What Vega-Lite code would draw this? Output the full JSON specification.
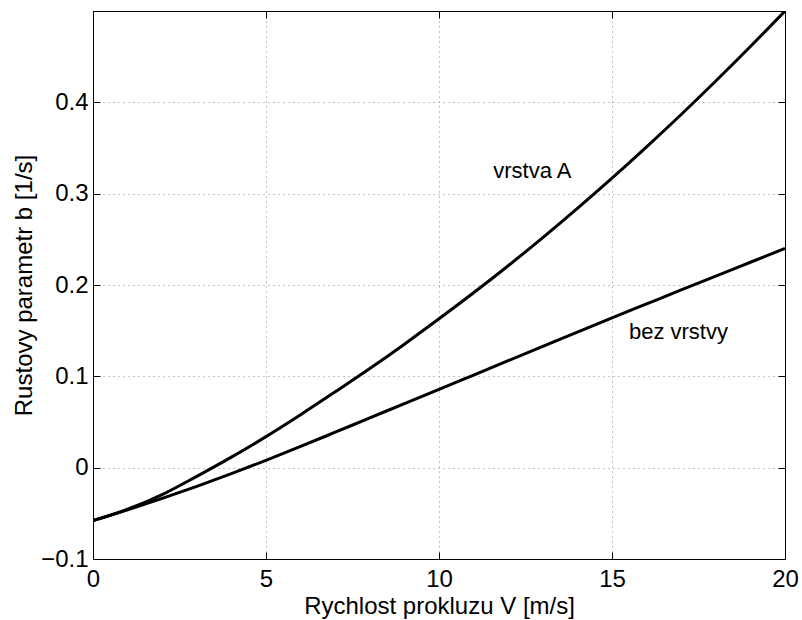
{
  "$schema": "https://vega.github.io/schema/vega-lite/v6.json",
  "width": 692,
  "height": 548,
  "autosize": "none",
  "padding": {"left": 93, "top": 11, "right": 17, "bottom": 61},
  "background": "white",
  "config": {
    "view": {"stroke": "#000", "strokeWidth": 1},
    "font": "Liberation Sans",
    "axis": {
      "domainColor": "#000",
      "tickColor": "#000",
      "labelColor": "#000",
      "titleColor": "#000",
      "labelFont": "Liberation Sans",
      "titleFont": "Liberation Sans",
      "labelFontSize": 24,
      "titleFontSize": 24,
      "titleFontWeight": "normal",
      "gridColor": "#888",
      "gridDash": [1, 4],
      "gridWidth": 1
    }
  },
  "datasets": {
    "curves": [
      {"V": 0, "b": -0.058, "s": "vrstva A"},
      {"V": 1, "b": -0.0455, "s": "vrstva A"},
      {"V": 2, "b": -0.0295, "s": "vrstva A"},
      {"V": 3, "b": -0.0095, "s": "vrstva A"},
      {"V": 4, "b": 0.0115, "s": "vrstva A"},
      {"V": 5, "b": 0.034, "s": "vrstva A"},
      {"V": 6, "b": 0.058, "s": "vrstva A"},
      {"V": 7, "b": 0.083, "s": "vrstva A"},
      {"V": 8, "b": 0.1085, "s": "vrstva A"},
      {"V": 9, "b": 0.1352, "s": "vrstva A"},
      {"V": 10, "b": 0.163, "s": "vrstva A"},
      {"V": 11, "b": 0.1915, "s": "vrstva A"},
      {"V": 12, "b": 0.2211, "s": "vrstva A"},
      {"V": 13, "b": 0.2519, "s": "vrstva A"},
      {"V": 14, "b": 0.2839, "s": "vrstva A"},
      {"V": 15, "b": 0.317, "s": "vrstva A"},
      {"V": 16, "b": 0.3513, "s": "vrstva A"},
      {"V": 17, "b": 0.3867, "s": "vrstva A"},
      {"V": 18, "b": 0.4233, "s": "vrstva A"},
      {"V": 19, "b": 0.4611, "s": "vrstva A"},
      {"V": 20, "b": 0.5, "s": "vrstva A"},
      {"V": 0, "b": -0.058, "s": "bez vrstvy"},
      {"V": 1, "b": -0.0462, "s": "bez vrstvy"},
      {"V": 2, "b": -0.0337, "s": "bez vrstvy"},
      {"V": 3, "b": -0.0205, "s": "bez vrstvy"},
      {"V": 4, "b": -0.0066, "s": "bez vrstvy"},
      {"V": 5, "b": 0.008, "s": "bez vrstvy"},
      {"V": 6, "b": 0.0232, "s": "bez vrstvy"},
      {"V": 7, "b": 0.0388, "s": "bez vrstvy"},
      {"V": 8, "b": 0.0545, "s": "bez vrstvy"},
      {"V": 9, "b": 0.0701, "s": "bez vrstvy"},
      {"V": 10, "b": 0.0858, "s": "bez vrstvy"},
      {"V": 11, "b": 0.1014, "s": "bez vrstvy"},
      {"V": 12, "b": 0.1171, "s": "bez vrstvy"},
      {"V": 13, "b": 0.1327, "s": "bez vrstvy"},
      {"V": 14, "b": 0.1484, "s": "bez vrstvy"},
      {"V": 15, "b": 0.164, "s": "bez vrstvy"},
      {"V": 16, "b": 0.1793, "s": "bez vrstvy"},
      {"V": 17, "b": 0.1946, "s": "bez vrstvy"},
      {"V": 18, "b": 0.2098, "s": "bez vrstvy"},
      {"V": 19, "b": 0.2249, "s": "bez vrstvy"},
      {"V": 20, "b": 0.24, "s": "bez vrstvy"}
    ],
    "labels": [
      {"V": 12.7, "b": 0.317, "label": "vrstva A"},
      {"V": 16.92, "b": 0.141, "label": "bez vrstvy"}
    ]
  },
  "layer": [
    {
      "layer": [
        {
          "data": {"name": "curves"},
          "mark": {"type": "line", "color": "#000", "strokeWidth": 3, "clip": true, "interpolate": "monotone"},
          "encoding": {
            "x": {
              "field": "V", "type": "quantitative",
              "scale": {"domain": [0, 20], "nice": false, "zero": false},
              "axis": {
                "orient": "bottom",
                "title": "Rychlost prokluzu V [m/s]",
                "values": [0, 5, 10, 15, 20],
                "grid": true,
                "tickSize": -7,
                "labelPadding": 15,
                "labelFlush": false,
                "titlePadding": 3
              }
            },
            "y": {
              "field": "b", "type": "quantitative",
              "scale": {"domain": [-0.1, 0.5], "nice": false, "zero": false},
              "axis": {
                "orient": "left",
                "title": "Rustovy parametr b [1/s]",
                "values": [-0.1, 0, 0.1, 0.2, 0.3, 0.4],
                "format": "~g",
                "grid": true,
                "tickSize": -7,
                "labelPadding": 12,
                "labelFlush": false,
                "titlePadding": 4
              }
            },
            "detail": {"field": "s"}
          }
        },
        {
          "data": {"name": "labels"},
          "mark": {"type": "text", "fontSize": 22, "font": "Liberation Sans", "align": "center", "baseline": "alphabetic", "color": "#000"},
          "encoding": {
            "x": {"field": "V", "type": "quantitative"},
            "y": {"field": "b", "type": "quantitative"},
            "text": {"field": "label"}
          }
        }
      ]
    },
    {
      "data": {"name": "labels"},
      "mark": {"type": "point", "opacity": 0},
      "encoding": {
        "x": {
          "field": "V", "type": "quantitative",
          "scale": {"domain": [0, 20], "nice": false, "zero": false},
          "axis": {"orient": "top", "title": null, "labels": false, "values": [0, 5, 10, 15, 20], "tickSize": -7, "grid": false}
        },
        "y": {
          "field": "b", "type": "quantitative",
          "scale": {"domain": [-0.1, 0.5], "nice": false, "zero": false},
          "axis": {"orient": "right", "title": null, "labels": false, "values": [-0.1, 0, 0.1, 0.2, 0.3, 0.4], "tickSize": -7, "grid": false}
        }
      }
    }
  ],
  "resolve": {"scale": {"x": "independent", "y": "independent"}}
}
